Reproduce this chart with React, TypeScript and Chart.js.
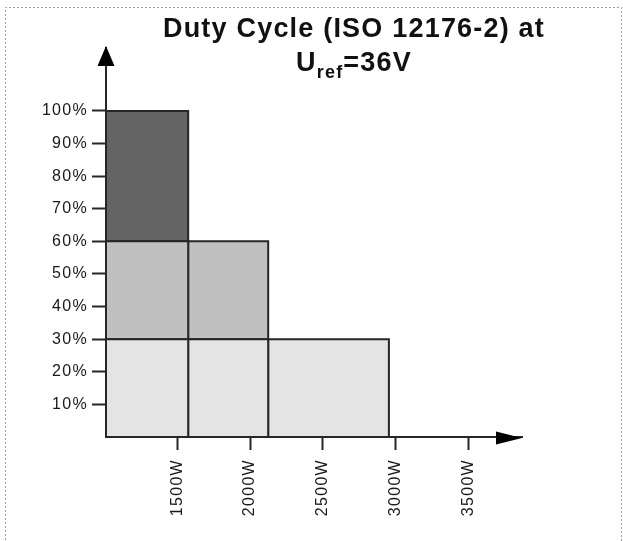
import React, { useEffect, useRef } from 'react';
import { Chart, registerables } from 'chart.js';

Chart.register(...registerables);

// ---- text ----
const titleLine1 = 'Duty Cycle (ISO 12176-2) at';
const titleMain = 'U';
const titleSub = 'ref';
const titleRest = '=36V';

// ---- data ----
const powerEdges = [1010, 1575, 2125, 2955]; // W, column boundaries
const columnTops = [100, 60, 30]; // % duty cycle reached by each column
const bandLevels = [0, 30, 60, 100]; // % band boundaries
const xTickValues = [1500, 2000, 2500, 3000, 3500];
const yTickValues = [10, 20, 30, 40, 50, 60, 70, 80, 90, 100];
const xRange = [1010, 3870];
const yRange = [0, 119.3];

// ---- styles ----
const bandColors = ['#e4e4e4', '#c0c0c0', '#646464'];
const lineColor = '#262626';
const FONT = "'Liberation Sans', Arial, sans-serif";

function buildDatasets() {
  const ds: any[] = [];
  columnTops.forEach((top, c) => {
    for (let b = 0; b < bandColors.length; b++) {
      if (bandLevels[b + 1] <= top) {
        const x0 = powerEdges[c];
        const x1 = powerEdges[c + 1];
        const y0 = bandLevels[b];
        const y1 = bandLevels[b + 1];
        ds.push({
          data: [
            { x: x0, y: y0 },
            { x: x1, y: y0 },
            { x: x1, y: y1 },
            { x: x0, y: y1 },
            { x: x0, y: y0 },
          ],
          backgroundColor: bandColors[b],
          borderColor: lineColor,
          borderWidth: 2,
          fill: 'shape',
          pointRadius: 0,
          pointHoverRadius: 0,
          pointHitRadius: 0,
          tension: 0,
          clip: false,
        });
      }
    }
  });
  return ds;
}

const spacingPlugin = {
  id: 'spacing',
  beforeLayout(chart: any) {
    chart.ctx.letterSpacing = '1.3px';
  },
  beforeDraw(chart: any) {
    chart.ctx.letterSpacing = '1.3px';
  },
};

const framePlugin = {
  id: 'frame',
  beforeDraw(chart: any) {
    const ctx = chart.ctx;
    ctx.save();
    ctx.strokeStyle = '#86a2c4';
    ctx.lineWidth = 1;
    ctx.setLineDash([2, 2]);
    ctx.beginPath();
    ctx.moveTo(5.5, 600);
    ctx.lineTo(5.5, 7.5);
    ctx.lineTo(621.5, 7.5);
    ctx.lineTo(621.5, 600);
    ctx.stroke();
    ctx.restore();
  },
};

const decorPlugin = {
  id: 'decor',
  afterDraw(chart: any) {
    const ctx = chart.ctx;
    const { left, top, right, bottom } = chart.chartArea;
    ctx.save();
    ctx.fillStyle = '#000';
    // y arrow
    ctx.beginPath();
    ctx.moveTo(left, top - 2);
    ctx.lineTo(left + 8.5, top + 18);
    ctx.lineTo(left - 8.5, top + 18);
    ctx.closePath();
    ctx.fill();
    // x arrow
    ctx.beginPath();
    ctx.moveTo(right, bottom + 1);
    ctx.lineTo(right - 26, bottom + 7.5);
    ctx.lineTo(right - 26, bottom - 5.5);
    ctx.closePath();
    ctx.fill();

    // title
    const cx = 354;
    ctx.letterSpacing = '1.2px';
    ctx.fillStyle = '#111';
    ctx.textBaseline = 'alphabetic';
    ctx.font = `bold 27px ${FONT}`;
    ctx.textAlign = 'center';
    ctx.fillText(titleLine1, cx, 37);
    ctx.textAlign = 'left';
    const mainFont = `bold 27px ${FONT}`;
    const subFont = `bold 18px ${FONT}`;
    ctx.font = mainFont;
    const w1 = ctx.measureText(titleMain).width;
    const w3 = ctx.measureText(titleRest).width;
    ctx.font = subFont;
    const w2 = ctx.measureText(titleSub).width;
    let x = cx - (w1 + w2 + w3) / 2;
    ctx.font = mainFont;
    ctx.fillText(titleMain, x, 71);
    x += w1;
    ctx.font = subFont;
    ctx.fillText(titleSub, x, 78);
    x += w2;
    ctx.font = mainFont;
    ctx.fillText(titleRest, x, 71);
    ctx.restore();
  },
};

export default function App() {
  const canvasRef = useRef<HTMLCanvasElement | null>(null);

  useEffect(() => {
    const canvas = canvasRef.current;
    if (!canvas) return;
    const chart = new Chart(canvas, {
      type: 'line',
      data: { datasets: buildDatasets() },
      options: {
        animation: false,
        responsive: true,
        maintainAspectRatio: false,
        devicePixelRatio: 1,
        events: [],
        layout: { padding: { left: 0, top: 48, right: 101, bottom: 0 } },
        plugins: {
          legend: { display: false },
          tooltip: { enabled: false },
          title: { display: false },
        },
        scales: {
          x: {
            type: 'linear',
            min: xRange[0],
            max: xRange[1],
            afterBuildTicks: (s: any) => {
              s.ticks = xTickValues.map((v) => ({ value: v }));
            },
            afterFit: (s: any) => {
              s.height = 104;
            },
            grid: {
              drawOnChartArea: false,
              drawTicks: true,
              tickLength: 13,
              tickWidth: 2,
              tickColor: lineColor,
            },
            border: { display: true, color: lineColor, width: 2 },
            ticks: {
              autoSkip: false,
              maxRotation: 90,
              minRotation: 90,
              padding: 9,
              color: '#1a1a1a',
              font: { family: FONT, size: 16 },
              callback: (v: any) => `${v}W`,
            },
          },
          y: {
            type: 'linear',
            min: yRange[0],
            max: yRange[1],
            afterBuildTicks: (s: any) => {
              s.ticks = yTickValues.map((v) => ({ value: v }));
            },
            afterFit: (s: any) => {
              s.width = 106;
            },
            grid: {
              drawOnChartArea: false,
              drawTicks: true,
              tickLength: 14,
              tickWidth: 2,
              tickColor: lineColor,
            },
            border: { display: true, color: lineColor, width: 2 },
            ticks: {
              autoSkip: false,
              padding: 4,
              color: '#1a1a1a',
              font: { family: FONT, size: 16 },
              callback: (v: any) => `${v}%`,
            },
          },
        },
      } as any,
      plugins: [spacingPlugin, framePlugin, decorPlugin],
    });
    return () => chart.destroy();
  }, []);

  return (
    <div
      style={{
        position: 'fixed',
        left: 0,
        top: 0,
        width: 623,
        height: 541,
        background: '#fff',
      }}
    >
      <canvas ref={canvasRef} />
    </div>
  );
}
